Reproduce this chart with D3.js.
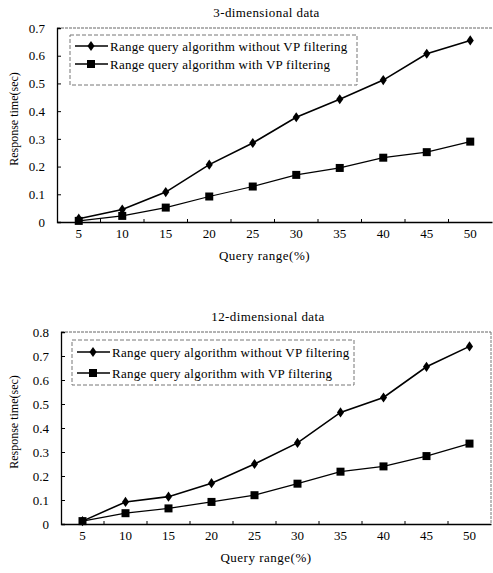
<!DOCTYPE html>
<html>
<head>
<meta charset="utf-8">
<script src="https://cdn.jsdelivr.net/npm/d3@7"></script>
<style>
  body { margin: 0; background: #fff; }
  svg text { font-family: "Liberation Serif", "DejaVu Serif", "Times New Roman", serif; fill: #000; }
  .axis text { font-size: 13px; }
  .axis path, .axis line { stroke: #000; }
</style>
</head>
<body>
<div id="chart"></div>
<script>
'use strict';

const W = 493, H = 573;

const QUERY_RANGES = ['5', '10', '15', '20', '25', '30', '35', '40', '45', '50'];
const SERIES_NAMES = [
  'Range query algorithm without VP filtering',
  'Range query algorithm with VP filtering',
];

// 3-dimensional data
const DIM3_WITHOUT = [0.012, 0.045, 0.108, 0.207, 0.285, 0.378, 0.443, 0.512, 0.607, 0.655];
const DIM3_WITH    = [0.004, 0.022, 0.052, 0.092, 0.128, 0.170, 0.195, 0.232, 0.252, 0.290];
const DIM3_TICKS   = [0, 0.1, 0.2, 0.3, 0.4, 0.5, 0.6, 0.7];

// 12-dimensional data
const DIM12_WITHOUT = [0.012, 0.092, 0.114, 0.170, 0.250, 0.338, 0.465, 0.527, 0.655, 0.740];
const DIM12_WITH    = [0.012, 0.045, 0.065, 0.092, 0.120, 0.168, 0.218, 0.240, 0.283, 0.335];
const DIM12_TICKS   = [0, 0.1, 0.2, 0.3, 0.4, 0.5, 0.6, 0.7, 0.8];

const svg = d3.select('#chart').append('svg')
  .attr('width', W).attr('height', H);

function drawPanel(opt) {
  const { title, left, top, right, bottom, yMax, yTicks, without, withVP, legendBox, rightBorder } = opt;
  const w = right - left, h = bottom - top;
  const g = svg.append('g').attr('transform', `translate(${left},${top})`);

  const x = d3.scaleBand().domain(QUERY_RANGES).range([0, w]);
  const y = d3.scaleLinear().domain([0, yMax]).range([h, 0]);
  const cx = d => x(d) + x.bandwidth() / 2;

  // faint dotted frame (top, and right where visible)
  g.append('line')
    .attr('x1', 0).attr('x2', w).attr('y1', 0).attr('y2', 0)
    .attr('stroke', '#666').attr('stroke-dasharray', '3,1');
  if (rightBorder) {
    g.append('line')
      .attr('x1', w).attr('x2', w).attr('y1', 0).attr('y2', h)
      .attr('stroke', '#777').attr('stroke-dasharray', '3,1');
  }

  // y axis
  g.append('g').attr('class', 'axis')
    .call(d3.axisLeft(y).tickValues(yTicks).tickSize(-4).tickPadding(12)
      .tickFormat(d => d === 0 ? '0' : d3.format('.1f')(d)))
    .attr('font-family', null)
    .call(a => a.select('.domain').attr('stroke-width', 1.3));

  // x axis: labels centred in bands, small ticks at band boundaries
  const xa = g.append('g').attr('class', 'axis')
    .attr('transform', `translate(0,${h})`)
    .call(d3.axisBottom(x).tickSize(0).tickPadding(7).tickSizeOuter(0))
    .attr('font-family', null)
    .call(a => a.select('.domain').attr('stroke-width', 1.3));
  xa.selectAll('.boundary')
    .data(QUERY_RANGES.slice(1))
    .join('line')
    .attr('x1', d => x(d)).attr('x2', d => x(d))
    .attr('y1', 0).attr('y2', -3)
    .attr('stroke', '#000');

  // titles
  g.append('text')
    .attr('x', w / 2 - 8).attr('y', -11)
    .attr('text-anchor', 'middle').attr('font-size', '13px')
    .attr('letter-spacing', '0.4px')
    .text(title);
  g.append('text')
    .attr('x', w / 2 - 10).attr('y', h + 38)
    .attr('text-anchor', 'middle').attr('font-size', '13px')
    .attr('letter-spacing', '0.5px')
    .text('Query range(%)');
  g.append('text')
    .attr('transform', 'rotate(-90)')
    .attr('x', -h / 2 + 6).attr('y', -left + 18)
    .attr('text-anchor', 'middle').attr('font-size', '12px')
    .text('Response time(sec)');

  const line = d3.line().x((d, i) => cx(QUERY_RANGES[i])).y(d => y(d));

  // without VP filtering: diamonds
  g.append('path').datum(without)
    .attr('d', line).attr('fill', 'none').attr('stroke', '#000').attr('stroke-width', 1.6);
  g.selectAll('.diamond').data(without).join('path')
    .attr('d', d3.symbol(d3.symbolDiamond, 30))
    .attr('transform', (d, i) => `translate(${cx(QUERY_RANGES[i])},${y(d)}) scale(1.2,1)`)
    .attr('fill', '#000');

  // with VP filtering: squares
  g.append('path').datum(withVP)
    .attr('d', line).attr('fill', 'none').attr('stroke', '#000').attr('stroke-width', 1.2);
  g.selectAll('.square').data(withVP).join('rect')
    .attr('x', (d, i) => cx(QUERY_RANGES[i]) - 4)
    .attr('y', d => y(d) - 4)
    .attr('width', 8).attr('height', 8)
    .attr('fill', '#000');

  // legend
  const lg = g.append('g').attr('transform', `translate(${legendBox.x - left},${legendBox.y - top})`);
  lg.append('rect')
    .attr('width', legendBox.w).attr('height', legendBox.h)
    .attr('fill', '#fff').attr('stroke', '#777').attr('stroke-dasharray', '4,2');
  SERIES_NAMES.forEach((name, i) => {
    const ry = legendBox.rows[i];
    lg.append('line').attr('x1', 5).attr('x2', 38).attr('y1', ry).attr('y2', ry)
      .attr('stroke', '#000').attr('stroke-width', 1.4);
    if (i === 0) {
      lg.append('path').attr('d', d3.symbol(d3.symbolDiamond, 30))
        .attr('transform', `translate(21,${ry}) scale(1.2,1)`);
    } else {
      lg.append('rect').attr('x', 17).attr('y', ry - 4).attr('width', 8).attr('height', 8);
    }
    lg.append('text').attr('x', 40).attr('y', ry + 4.5)
      .attr('font-size', '13px').attr('letter-spacing', '0.25px').text(name);
  });
}

drawPanel({
  title: '3-dimensional data',
  left: 57, top: 28, right: 492, bottom: 222,
  yMax: 0.7, yTicks: DIM3_TICKS,
  without: DIM3_WITHOUT, withVP: DIM3_WITH,
  legendBox: { x: 70, y: 35, w: 287, h: 50, rows: [11, 29] },
  rightBorder: false,
});

drawPanel({
  title: '12-dimensional data',
  left: 61, top: 332, right: 491, bottom: 524,
  yMax: 0.8, yTicks: DIM12_TICKS,
  without: DIM12_WITHOUT, withVP: DIM12_WITH,
  legendBox: { x: 72, y: 340, w: 282, h: 45, rows: [12, 33] },
  rightBorder: true,
});
</script>
</body>
</html>
